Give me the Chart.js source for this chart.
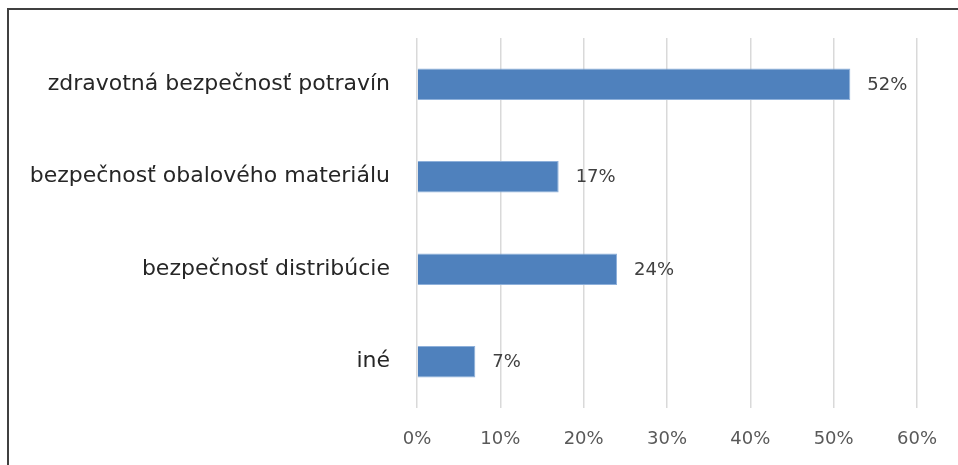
<!DOCTYPE html>
<html>
<head>
<meta charset="utf-8">
<script src="https://cdn.jsdelivr.net/npm/chart.js@4"></script>
<style>
  html, body { margin: 0; padding: 0; background: #fff; overflow: hidden; }
  #frame { position: absolute; left: 7px; top: 8px; width: 1000px; height: 500px; border: 2px solid #404040; box-sizing: border-box; }
  #wrap { position: absolute; left: 0; top: 0; width: 958px; height: 465px; }
</style>
</head>
<body>
<div id="frame"></div>
<div id="wrap"><canvas id="chart_canvas" width="958" height="465"></canvas></div>
<script>
// categories and shares (in %)
var categories = ["zdravotná bezpečnosť potravín", "bezpečnosť obalového materiálu", "bezpečnosť distribúcie", "iné"];
var shares = [52, 17, 24, 7];
var tickValues = [0, 10, 20, 30, 40, 50, 60];

// value labels to the right of each bar
var valueLabels = {
	id: "valueLabels",
	afterDatasetsDraw: function (chart) {
		var ctx = chart.ctx;
		var meta = chart.getDatasetMeta(0);
		ctx.save();
		ctx.font = "18px 'DejaVu Sans'";
		ctx.fillStyle = "#404040";
		ctx.textBaseline = "middle";
		ctx.textAlign = "left";
		meta.data.forEach(function (bar, i) {
			ctx.fillText(shares[i] + "%", bar.x + 17, bar.y + 1);
		});
		ctx.restore();
	}
};

var myBar = new Chart(document.getElementById("chart_canvas"), {
	type: "bar",
	data: {
		labels: categories,
		datasets: [{
			data: shares,
			backgroundColor: "#4f81bd",
			borderColor: "#8eb0da",
			borderWidth: 1,
			barPercentage: 0.68,
			categoryPercentage: 0.5
		}]
	},
	options: {
		indexAxis: "y",
		responsive: false,
		animation: false,
		devicePixelRatio: 1,
		layout: { padding: { top: 38, right: 41, left: 0, bottom: 0 } },
		plugins: {
			legend: { display: false },
			tooltip: { enabled: false }
		},
		scales: {
			x: {
				min: 0,
				max: 60,
				afterBuildTicks: function (scale) {
					scale.ticks = tickValues.map(function (v) { return { value: v }; });
				},
				afterFit: function (scale) { scale.height = 57; },
				grid: { color: "#d9d9d9", lineWidth: 1.5, drawTicks: false },
				border: { display: false },
				ticks: {
					padding: 21,
					color: "#595959",
					font: { family: "'DejaVu Sans'", size: 18 },
					callback: function (v) { return v + "%"; }
				}
			},
			y: {
				afterFit: function (scale) { scale.width = 417; },
				grid: { display: false },
				border: { display: false },
				ticks: {
					padding: 19,
					color: "#262626",
					font: { family: "'DejaVu Sans'", size: 22 }
				}
			}
		}
	},
	plugins: [valueLabels]
});
</script>
</body>
</html>
